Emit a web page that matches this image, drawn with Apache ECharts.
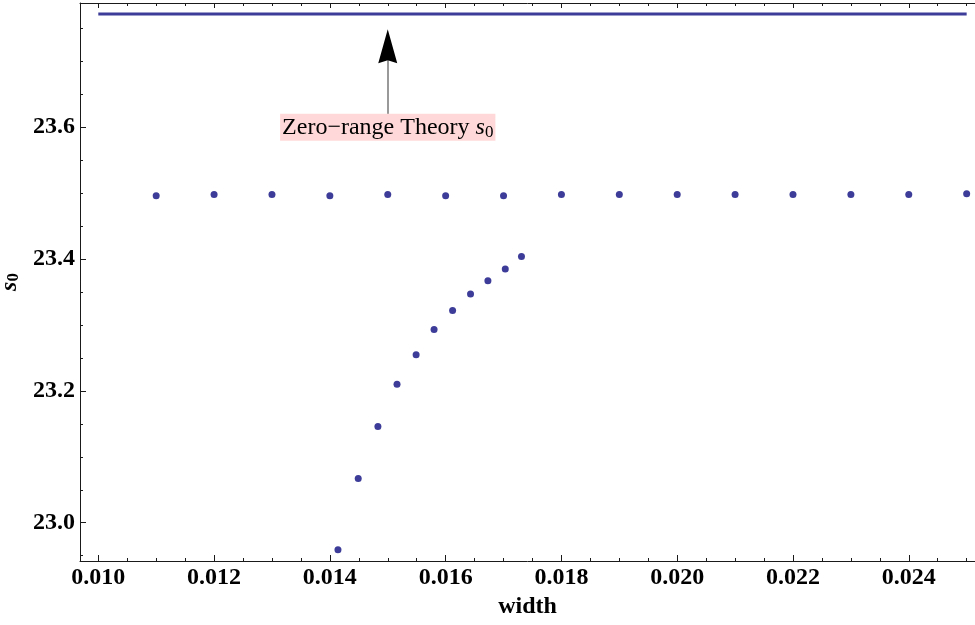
<!DOCTYPE html>
<html>
<head>
<meta charset="utf-8">
<script src="https://cdn.jsdelivr.net/npm/echarts@6/dist/echarts.min.js"></script>
<style>
  html, body { margin: 0; padding: 0; background: #fff; }
  #chart { width: 975px; height: 625px; }
</style>
</head>
<body>
<div id="chart"></div>
<script>
// Upper branch of fitted s0 values
const widthUpper = [0.011, 0.012, 0.013, 0.014, 0.015, 0.016, 0.017, 0.018, 0.019, 0.020, 0.021, 0.022, 0.023, 0.024, 0.025];
const s0Upper = [23.496, 23.498, 23.498, 23.496, 23.498, 23.496, 23.496, 23.498, 23.498, 23.498, 23.498, 23.498, 23.498, 23.498, 23.499];

// Lower branch
const widthLower = [0.01414, 0.01449, 0.01483, 0.01516, 0.01549, 0.01580, 0.01612, 0.01643, 0.01673, 0.01703, 0.01731];
const s0Lower = [22.959, 23.067, 23.146, 23.210, 23.255, 23.293, 23.322, 23.347, 23.367, 23.385, 23.404];

// Zero-range theory reference level
const theoryWidth = [0.010, 0.025];
const theoryS0 = 23.772;

// Annotation anchor
const noteWidth = 0.015;
const noteS0 = 23.600;
const arrowTailS0 = 23.620;
const arrowHeadS0 = 23.723;
const arrowShaftTopS0 = 23.735;

// Ticks
const xMajorTicks = [0.010, 0.012, 0.014, 0.016, 0.018, 0.020, 0.022, 0.024];
const xMinorTicks = [0.0100, 0.0105, 0.0110, 0.0115, 0.0120, 0.0125, 0.0130, 0.0135, 0.0140, 0.0145,
                     0.0150, 0.0155, 0.0160, 0.0165, 0.0170, 0.0175, 0.0180, 0.0185, 0.0190, 0.0195,
                     0.0200, 0.0205, 0.0210, 0.0215, 0.0220, 0.0225, 0.0230, 0.0235, 0.0240, 0.0245, 0.0250];
const yMajorTicks = [23.0, 23.2, 23.4, 23.6];
const yMinorTicks = [22.95, 23.00, 23.05, 23.10, 23.15, 23.20, 23.25, 23.30, 23.35, 23.40,
                     23.45, 23.50, 23.55, 23.60, 23.65, 23.70, 23.75];

const X_MIN = 0.009684, X_MAX = 0.025144;
const Y_MIN = 22.9419, Y_MAX = 23.7886;

const SERIF = "'Liberation Serif', 'DejaVu Serif', serif";
const MARK = '#3d3d99';
const FRAME = '#1a1a1a';

function xAxisBase(pos, ticks, len, showLine) {
  return {
    type: 'value', position: pos, min: X_MIN, max: X_MAX,
    axisLine: { show: showLine, lineStyle: { color: FRAME, width: 1 } },
    axisTick: { show: true, inside: true, length: len, customValues: ticks, lineStyle: { color: FRAME, width: 1 } },
    axisLabel: { show: false },
    splitLine: { show: false }
  };
}
function yAxisBase(ticks, len, showLine) {
  return {
    type: 'value', position: 'left', min: Y_MIN, max: Y_MAX,
    axisLine: { show: showLine, lineStyle: { color: FRAME, width: 1 } },
    axisTick: { show: true, inside: true, length: len, customValues: ticks, lineStyle: { color: FRAME, width: 1 } },
    axisLabel: { show: false },
    splitLine: { show: false }
  };
}

const xBottom = xAxisBase('bottom', xMajorTicks, 6, true);
xBottom.axisLabel = {
  show: true, customValues: xMajorTicks, margin: 5,
  formatter: v => v.toFixed(3),
  fontFamily: SERIF, fontWeight: 'bold', fontSize: 24, color: '#000'
};
xBottom.name = 'width';
xBottom.nameLocation = 'middle';
xBottom.nameGap = 32;
xBottom.nameTextStyle = { fontFamily: SERIF, fontWeight: 'bold', fontSize: 24, color: '#000' };

const yLeft = yAxisBase(yMajorTicks, 6, true);
yLeft.axisLabel = {
  show: true, customValues: yMajorTicks, margin: 5,
  formatter: v => v.toFixed(1),
  fontFamily: SERIF, fontWeight: 'bold', fontSize: 24, color: '#000'
};
yLeft.name = '{s|s}{sub|0}';
yLeft.nameLocation = 'middle';
yLeft.nameGap = 58;
yLeft.nameTextStyle = {
  color: '#000',
  rich: {
    s: { fontFamily: SERIF, fontStyle: 'italic', fontWeight: 'bold', fontSize: 24, color: '#000' },
    sub: { fontFamily: SERIF, fontWeight: 'bold', fontSize: 17, color: '#000', padding: [8, 0, 0, 0] }
  }
};

const option = {
  animation: false,
  backgroundColor: '#fff',
  grid: { left: 80, right: 0, top: 3, bottom: 64, containLabel: false, outerBoundsMode: 'none' },
  xAxis: [
    xBottom,
    xAxisBase('bottom', xMinorTicks, 3, false),
    xAxisBase('top', xMajorTicks, 5, true),
    xAxisBase('top', xMinorTicks, 3, false)
  ],
  yAxis: [
    yLeft,
    yAxisBase(yMinorTicks, 3, false)
  ],
  series: [
    {
      type: 'line',
      xAxisIndex: 0, yAxisIndex: 0,
      data: theoryWidth.map(w => [w, theoryS0]),
      showSymbol: false,
      lineStyle: { color: MARK, width: 3 },
      itemStyle: { color: MARK },
      z: 3,
      markLine: {
        silent: true,
        symbol: ['none', 'none'],
        label: { show: false },
        lineStyle: { color: '#777', width: 1.5, type: 'solid' },
        data: [[{ coord: [noteWidth, arrowTailS0] }, { coord: [noteWidth, arrowShaftTopS0] }]]
      },
      markPoint: {
        silent: true,
        data: [
          {
            coord: [noteWidth, arrowHeadS0],
            symbol: 'path://M5,0 L10,34 L5,31 L0,34 Z',
            symbolSize: [19, 34],
            symbolKeepAspect: false,
            itemStyle: { color: '#000' },
            label: { show: false }
          },
          {
            coord: [noteWidth, noteS0],
            symbol: 'circle',
            symbolSize: 1,
            itemStyle: { color: 'rgba(0,0,0,0)' },
            label: {
              show: true, position: 'inside',
              formatter: '{t|Zero\u2212range Theory }{s|s}{sub|0}',
              backgroundColor: '#ffd9d9',
              padding: [1, 2, 0, 2],
              rich: {
                t: { fontFamily: SERIF, fontSize: 24, color: '#000' },
                s: { fontFamily: SERIF, fontStyle: 'italic', fontSize: 24, color: '#000' },
                sub: { fontFamily: SERIF, fontSize: 17, color: '#000', padding: [9, 0, 0, 0] }
              }
            }
          }
        ]
      }
    },
    {
      type: 'scatter',
      xAxisIndex: 0, yAxisIndex: 0,
      data: widthUpper.map((w, i) => [w, s0Upper[i]]),
      symbol: 'circle', symbolSize: 7,
      itemStyle: { color: MARK, opacity: 1 }
    },
    {
      type: 'scatter',
      xAxisIndex: 0, yAxisIndex: 0,
      data: widthLower.map((w, i) => [w, s0Lower[i]]),
      symbol: 'circle', symbolSize: 7,
      itemStyle: { color: MARK, opacity: 1 }
    }
  ]
};

const chart = echarts.init(document.getElementById('chart'), null, { renderer: 'canvas' });
chart.setOption(option);
</script>
</body>
</html>
